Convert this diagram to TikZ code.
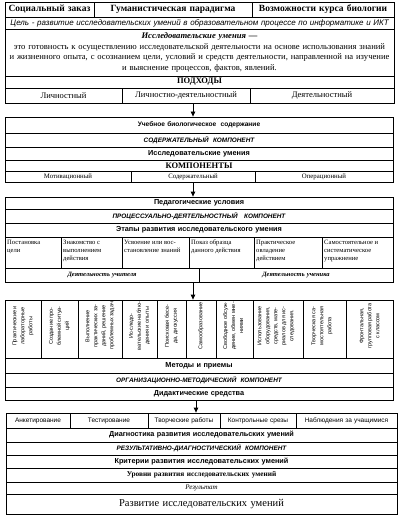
\documentclass[tikz,border=0pt]{standalone}
\usepackage{fontspec}
\setmainfont{Liberation Serif}
\setsansfont{Liberation Sans}
\usetikzlibrary{arrows.meta}
\newcommand\fz[2]{\fontsize{#1}{#2}\selectfont}
% \cel[style]{name}{x1}{y1}{x2}{y2}{text}
\newcommand\cel[7][]{%
  \pgfmathsetmacro\cw{#5-#3}\pgfmathsetmacro\chh{#6-#4}\pgfmathsetmacro\tw{#5-#3-4}%
  \node[cellbox,minimum width=\cw pt,minimum height=\chh pt,text width=\tw pt,#1] (#2) at ({(#3+#5)/2},{(#4+#6)/2}) {#7};}
\tikzset{
  cellbox/.style={draw,line width=0.8pt,inner xsep=2pt,inner ysep=0pt,align=center,font=\fz{8}{9.5}},
  sbold/.style={font=\fz{9.5}{11}\bfseries},
  sitsans/.style={font=\sffamily\itshape\fz{8}{9}},
  defin/.style={font=\fz{8.6}{10.5}},
  approach/.style={font=\fz{8.5}{10}},
  capsb/.style={font=\fz{8.5}{10}\bfseries},
  sansb/.style={font=\sffamily\bfseries\fz{7.3}{9}},
  sansbs/.style={font=\sffamily\bfseries\fz{6.6}{8}},
  compit/.style={font=\sffamily\bfseries\itshape\fz{6.4}{8}},
  tiny/.style={font=\fz{6.8}{7.5}},
  stage/.style={inner sep=0pt,anchor=north west,align=left,font=\fz{6.6}{8}},
  actor/.style={font=\bfseries\itshape\fz{6.5}{8}},
  vt/.style={inner sep=0pt,rotate=90,align=center,font=\sffamily\fz{5.5}{8}},
  diag/.style={font=\sffamily\fz{6.5}{8}},
  levels/.style={font=\bfseries\fz{7.3}{9}},
  resit/.style={font=\itshape\fz{7}{8}},
  final/.style={font=\fz{10.5}{12}},
  arr/.style={line width=0.8pt,-{Triangle[length=5pt,width=4.5pt]}},
}
\begin{document}
\begin{tikzpicture}[x=1pt,y=-1pt]
\fill[white] (0,0) rectangle (402,524);
\useasboundingbox (0,0) rectangle (402,524);
% ---------- block 1
\cel[sbold]{soc}{5}{2}{94}{17}{Социальный заказ}
\cel[sbold]{gum}{94}{2}{252}{17}{Гуманистическая парадигма}
\cel[sbold]{voz}{252}{2}{394}{17}{Возможности курса биологии}
\cel[sitsans]{goal}{5}{17}{394}{29}{\mbox{Цель - развитие исследовательских умений в образовательном процессе по информатике и ИКТ}}
\cel[defin]{def}{5}{29}{394}{76}{{\bfseries\itshape Исследовательские умения —}\\
\mbox{это готовность к осуществлению исследовательской деятельности на основе использования знаний}\\
\mbox{и жизненного опыта, с осознанием цели, условий и средств деятельности, направленной на изучение}\\
и выяснение процессов, фактов, явлений.}
\cel[capsb]{pod}{5}{76}{394}{88}{ПОДХОДЫ}
\cel[approach]{pa}{5}{88}{122}{103}{Личностный}
\cel[approach]{pb}{122}{88}{250}{103}{Личностно-деятельностный}
\cel[approach]{pc}{250}{88}{394}{103}{Деятельностный}
% ---------- block 2
\cel[sansbs]{uch}{5}{117}{393}{133}{Учебное биологическое\ \ содержание}
\cel[compit]{sod}{5}{133}{393}{147}{СОДЕРЖАТЕЛЬНЫЙ\ \ КОМПОНЕНТ}
\cel[sansb]{ium}{5}{147}{393}{160}{Исследовательские умения}
\cel[capsb]{komp}{5}{160}{393}{171}{КОМПОНЕНТЫ}
\cel[tiny]{ka}{5}{171}{131}{182}{Мотивационный}
\cel[tiny]{kb}{131}{171}{255}{182}{Содержательный}
\cel[tiny]{kc}{255}{171}{393}{182}{Операционный}
% ---------- block 3
\cel[sansb]{ped}{5}{197}{393}{209}{Педагогические условия}
\cel[compit]{proc}{5}{209}{393}{223}{ПРОЦЕССУАЛЬНО-ДЕЯТЕЛЬНОСТНЫЙ\ \ \ КОМПОНЕНТ}
\cel[sansb]{etap}{5}{223}{393}{237}{Этапы развития исследовательского умения}
\cel{e1}{5}{237}{61}{268}{}
\cel{e2}{61}{237}{122}{268}{}
\cel{e3}{122}{237}{189}{268}{}
\cel{e4}{189}{237}{254}{268}{}
\cel{e5}{254}{237}{322}{268}{}
\cel{e6}{322}{237}{393}{268}{}
\node[stage] (t1) at (7,240) {Постановка\\цели};
\node[stage] (t2) at (63,240) {Знакомство с\\выполнением\\действия};
\node[stage] (t3) at (124,240) {Усвоение или вос-\\становление знаний};
\node[stage] (t4) at (191,240) {Показ образца\\данного действия};
\node[stage] (t5) at (256,240) {Практическое\\овладение\\действием};
\node[stage] (t6) at (324,240) {Самостоятельное и\\систематическое\\упражнение};
\cel[actor]{dt}{5}{268}{199}{282}{Деятельность учителя}
\cel[actor]{ds}{199}{268}{393}{282}{Деятельность ученика}
% ---------- vertical methods
\cel{m1}{5}{300}{41}{358}{}
\cel{m2}{41}{300}{78}{358}{}
\cel{m3}{78}{300}{122}{358}{}
\cel{m4}{122}{300}{157}{358}{}
\cel{m5}{157}{300}{186}{358}{}
\cel{m6}{186}{300}{216}{358}{}
\cel{m7}{216}{300}{253}{358}{}
\cel{m8}{253}{300}{303}{358}{}
\cel{m9}{303}{300}{346}{358}{}
\cel{m10}{346}{300}{393}{358}{}
\node[vt] (v1) at (23,326) {Практические и\\лабораторные\\работы};
\node[vt] (v2) at (59.5,326) {Создание про-\\блемной ситуа-\\ций};
\node[vt] (v3) at (100,326) {Выполнение\\практических за-\\даний, решение\\проблемных задач};
\node[vt] (v4) at (139.5,326) {Ис-следо-\\вательские наблю-\\дения и опыты};
\node[vt] (v5) at (171.5,326) {Поисковая бесе-\\да, дискуссия};
\node[vt] (v6) at (201,326) {Самообразование};
\node[vt] (v7) at (233,326) {Свободное обсуж-\\дение, обмен мне-\\ниями};
\node[vt] (v8) at (276,326) {Использование\\оборудования,\\средств, мате-\\риалов для ис-\\следования.};
\node[vt] (v9) at (322,326) {Творческая са-\\мостоятельная\\работа};
\node[vt] (v10) at (369.5,326) {Фронтальная,\\групповая работа\\с классом};
\cel[sansb]{met}{5}{358}{393}{373}{Методы и приемы}
\cel[compit]{org}{5}{373}{393}{387}{ОРГАНИЗАЦИОННО-МЕТОДИЧЕСКИЙ\ \ КОМПОНЕНТ}
\cel[sansb]{did}{5}{387}{393}{400}{Дидактические средства}
% ---------- bottom block
\cel[diag]{d1}{6}{413}{70}{428}{Анкетирование}
\cel[diag]{d2}{70}{413}{148}{428}{Тестирование}
\cel[diag]{d3}{148}{413}{220}{428}{Творческие работы}
\cel[diag]{d4}{220}{413}{296}{428}{Контрольные срезы}
\cel[diag]{d5}{296}{413}{397}{428}{Наблюдения за учащимися}
\cel[sansb]{dg}{6}{428}{397}{442}{Диагностика развития исследовательских умений}
\cel[compit]{res}{6}{442}{397}{455}{РЕЗУЛЬТАТИВНО-ДИАГНОСТИЧЕСКИЙ\ \ КОМПОНЕНТ}
\cel[sansb]{krit}{6}{455}{397}{468}{Критерии развития исследовательских умений}
\cel[levels]{urov}{6}{468}{397}{482}{Уровни развития исследовательских умений}
\cel[resit]{rez}{6}{482}{397}{494}{Результат}
\cel[final]{fin}{6}{494}{397}{514}{Развитие исследовательских умений}
% ---------- arrows
\coordinate (ax1) at (193,0);
\coordinate (ax2) at (196,0);
\draw[arr] (pb.south -| ax1) -- (uch.north -| ax1);
\draw[arr] (kb.south -| ax1) -- (ped.north -| ax1);
\draw[arr] (ds.south -| ax1) -- (m6.north -| ax1);
\draw[arr] (did.south -| ax2) -- (d3.north -| ax2);
\end{tikzpicture}
\end{document}
